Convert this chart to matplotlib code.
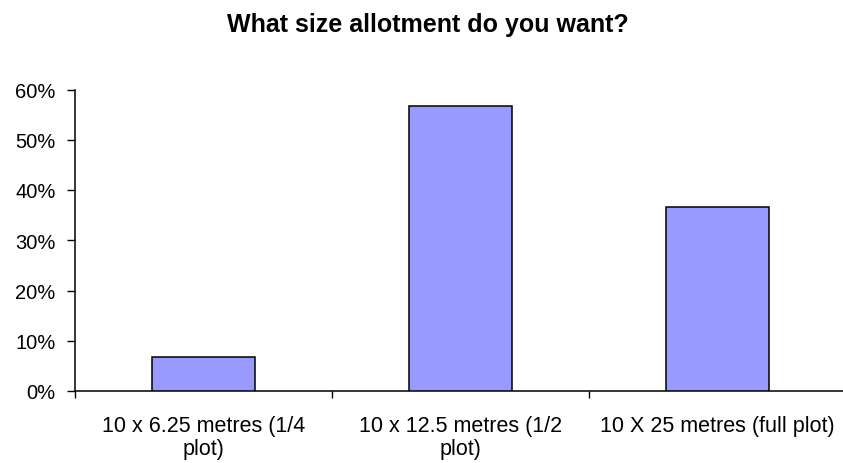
import numpy as np
import matplotlib.pyplot as plt
from matplotlib.ticker import PercentFormatter

# survey answers, share of respondents
categories = ["10 x 6.25 metres (1/4\nplot)",
              "10 x 12.5 metres (1/2\nplot)",
              "10 X 25 metres (full plot)"]
shares = [6.7, 56.7, 36.7]

plt.rcParams['font.family'] = ['Liberation Sans', 'DejaVu Sans']

fig = plt.figure(figsize=(8.43, 4.64), dpi=100)
ax = fig.add_axes([75/843, 72/464, 771/843, 301.5/464])

x = np.arange(len(categories))
ax.bar(x, shares, width=0.4, color="#9999FF", edgecolor="black", linewidth=1.1, zorder=3)

ax.set_xlim(-0.5, len(categories) - 0.5)
ax.set_ylim(0, 60)
ax.set_yticks(np.arange(0, 61, 10))
ax.yaxis.set_major_formatter(PercentFormatter(decimals=0))

# category labels sit between the boundary ticks
ax.set_xticks(np.arange(-0.5, len(categories), 1.0))
ax.set_xticklabels([])
ax.set_xticks(x, minor=True)
ax.set_xticklabels(categories, minor=True, fontsize=15.5, linespacing=1.12)
ax.tick_params(axis='x', which='minor', length=0, pad=17.5)
ax.tick_params(axis='x', which='major', length=5, width=1, direction='out')
ax.tick_params(axis='y', length=6, width=1, direction='out', labelsize=14.5, pad=8)

for side in ['top', 'right']:
    ax.spines[side].set_visible(False)
for side in ['left', 'bottom']:
    ax.spines[side].set_linewidth(1.1)

fig.text(428/843, 1 - 32/464, "What size allotment do you want?", ha='center', va='baseline',
         fontsize=18, fontweight='bold')

fig.savefig("out.png", dpi=100)
